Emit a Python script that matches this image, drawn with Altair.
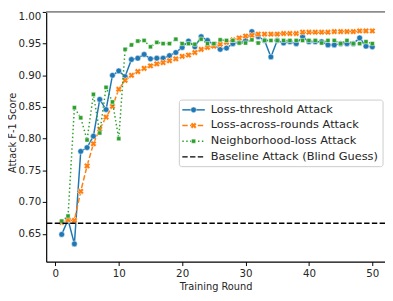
import altair as alt
import pandas as pd

rounds = list(range(1, 51))

loss_threshold = [
    0.649, 0.672, 0.634, 0.780, 0.786, 0.804, 0.862, 0.846, 0.900, 0.907,
    0.898, 0.925, 0.927, 0.933, 0.926, 0.927, 0.927, 0.931, 0.936, 0.944,
    0.954, 0.945, 0.961, 0.955, 0.948, 0.941, 0.943, 0.950, 0.952, 0.955,
    0.969, 0.961, 0.955, 0.929, 0.955, 0.951, 0.953, 0.950, 0.961, 0.953,
    0.953, 0.953, 0.948, 0.948, 0.950, 0.950, 0.950, 0.959, 0.946, 0.945,
]
loss_across_rounds = [
    0.668, 0.672, 0.671, 0.717, 0.757, 0.792, 0.815, 0.834, 0.851, 0.878,
    0.892, 0.900, 0.906, 0.911, 0.915, 0.918, 0.920, 0.923, 0.926, 0.930,
    0.932, 0.936, 0.941, 0.944, 0.946, 0.949, 0.952, 0.956, 0.959, 0.962,
    0.963, 0.965, 0.965, 0.965, 0.965, 0.966, 0.966, 0.966, 0.968, 0.968,
    0.968, 0.968, 0.968, 0.969, 0.969, 0.969, 0.969, 0.970, 0.970, 0.970,
]
neighborhood_loss = [
    0.670, 0.678, 0.849, 0.833, 0.798, 0.870, 0.809, 0.881, 0.858, 0.800,
    0.941, 0.948, 0.954, 0.955, 0.945, 0.952, 0.950, 0.950, 0.957, 0.950,
    0.950, 0.949, 0.957, 0.950, 0.950, 0.956, 0.955, 0.955, 0.951, 0.951,
    0.956, 0.951, 0.955, 0.955, 0.955, 0.955, 0.955, 0.955, 0.955, 0.955,
    0.955, 0.951, 0.955, 0.955, 0.950, 0.955, 0.950, 0.950, 0.953, 0.950,
]
baseline_value = [0.6667]
top_frame = [1.0]

series_labels = ["Loss-threshold Attack", "Loss-across-rounds Attack",
                 "Neighborhood-loss Attack", "Baseline Attack (Blind Guess)"]
x_ticks = [0, 10, 20, 30, 40, 50]
y_ticks = [0.65, 0.70, 0.75, 0.80, 0.85, 0.90, 0.95, 1.00]

BLUE, ORANGE, GREEN = "#1f77b4", "#ff7f0e", "#2ca02c"
FONT = "DejaVu Sans"
TXT = "#262626"
W, H = 346, 255

df = pd.DataFrame({"round": rounds, "lt": loss_threshold,
                   "la": loss_across_rounds, "nl": neighborhood_loss})

xs = alt.Scale(domain=[-1.45, 52.0], nice=False, zero=False)
ys = alt.Scale(domain=[0.606, 1.0], nice=False, zero=False)

x_axis = alt.Axis(values=x_ticks, title="Training Round", grid=False,
                  labelFontSize=10.5, titleFontSize=10, labelPadding=3,
                  titlePadding=2.5)
y_axis = alt.Axis(values=y_ticks, title="Attack F-1 Score", grid=False, format=".2f",
                  labelFontSize=10.5, titleFontSize=10, labelPadding=1.5,
                  labelFlush=True, titleX=-29, titleY=123)

X = alt.X("round:Q", scale=xs, axis=x_axis)


def series(field, color, dash, shape, size, angle=0):
    base = alt.Chart(df).encode(x=X, y=alt.Y(f"{field}:Q", scale=ys, axis=y_axis))
    line_kw = dict(color=color, strokeWidth=1.5)
    if dash:
        line_kw["strokeDash"] = dash
    ln = base.mark_line(**line_kw)
    pt = base.mark_point(shape=shape, size=size, filled=True, color=color, opacity=1,
                         stroke="white", strokeWidth=0.5, angle=angle)
    return ln + pt


blue = series("lt", BLUE, None, "circle", 34)
orange = series("la", ORANGE, [5.5, 2.4], "cross", 42, 45)
green = series("nl", GREEN, [1.5, 2.5], "square", 18)

base_rule = alt.Chart(pd.DataFrame({"b": baseline_value})).mark_rule(
    color="black", strokeWidth=1.5, strokeDash=[5.5, 2.4]
).encode(y=alt.Y("b:Q", scale=ys, axis=y_axis))

top_rule = alt.Chart(pd.DataFrame({"t": top_frame})).mark_rule(
    color="#8c8c8c", strokeWidth=1.8
).encode(y=alt.Y("t:Q", scale=ys, axis=y_axis))

# legend (drawn in pixel space)
one = pd.DataFrame({"k": [0]})
lx0, lx1, ly0, ly1 = 136, 344, 90, 158
rows = [100, 116, 132, 148]
hx0, hx1, hm, tx = 139, 162, 150.5, 168

legend_layers = [
    alt.Chart(one).mark_rect(fill="white", fillOpacity=0.85, stroke="#cccccc",
                             strokeWidth=1, cornerRadius=2.5).encode(
        x=alt.value(lx0), x2=alt.value(lx1), y=alt.value(ly0), y2=alt.value(ly1))
]
styles = [
    (BLUE, None, "circle", 34, 0),
    (ORANGE, [5.5, 2.4], "cross", 42, 45),
    (GREEN, [1.5, 2.5], "square", 18, 0),
    ("black", [5.5, 2.4], None, 0, 0),
]
for label, ry, (color, dash, shape, size, angle) in zip(series_labels, rows, styles):
    kw = dict(color=color, strokeWidth=1.5)
    if dash:
        kw["strokeDash"] = dash
    legend_layers.append(alt.Chart(one).mark_rule(**kw).encode(
        x=alt.value(hx0), x2=alt.value(hx1), y=alt.value(ry)))
    if shape:
        legend_layers.append(alt.Chart(one).mark_point(
            shape=shape, size=size, filled=True, color=color, opacity=1,
            stroke="white", strokeWidth=0.5, angle=angle).encode(
            x=alt.value(hm), y=alt.value(ry)))
    legend_layers.append(alt.Chart(one).mark_text(
        align="left", baseline="middle", font=FONT, fontSize=11.6, color=TXT).encode(
        x=alt.value(tx), y=alt.value(ry), text=alt.value(label)))

chart = alt.layer(top_rule, blue, orange, green, base_rule, *legend_layers).properties(
    width=W, height=H,
    autosize=alt.AutoSizeParams(type="none"),
    padding={"left": 39, "top": 1, "right": 0, "bottom": 29},
).configure_view(stroke=None).configure_axis(
    labelFont=FONT, titleFont=FONT, labelColor=TXT, titleColor=TXT,
    titleFontWeight="normal", domainColor="black", domainWidth=1.2,
    tickColor="black", tickWidth=1, tickSize=4,
)

chart.save("out.html", embed_options={"renderer": "svg", "actions": False})
